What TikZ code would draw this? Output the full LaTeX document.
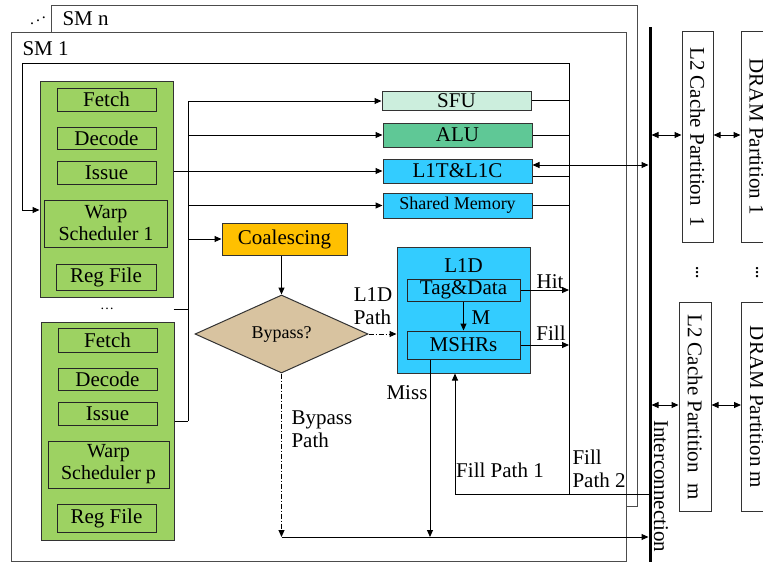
\documentclass[tikz,border=0pt]{standalone}
\usepackage{fontspec}
\setmainfont{Liberation Serif}
\usetikzlibrary{arrows.meta,shapes.geometric,positioning}

\definecolor{coregreen}{HTML}{9DD262}
\definecolor{sfugreen}{HTML}{CCEEDD}
\definecolor{alugreen}{HTML}{5FC896}
\definecolor{lonecyan}{HTML}{33CCFF}
\definecolor{coalorange}{HTML}{FFC000}
\definecolor{bypasstan}{HTML}{D8C3A0}

\tikzset{
  every node/.style={font=\fontsize{21}{23}\selectfont, inner sep=0pt},
  frame/.style={draw=black!70, fill=white},
  core/.style={draw=black!80, fill=coregreen, minimum width=133},
  stage/.style={draw=black!85, minimum width=99, minimum height=23},
  sched/.style={stage, minimum width=123, minimum height=47, align=center,
    font=\fontsize{20}{22}\selectfont},
  fu/.style={draw=black!80, fill=#1, minimum width=149, minimum height=24},
  part/.style={draw=black!80, fill=white, rotate=-90, minimum height=31},
  bypline/.style={dash pattern=on 5pt off 2pt on 1pt off 2pt},
  small/.style={font=\fontsize{18}{20}\selectfont},
  vdot/.style={font=\fontsize{20}{20}\selectfont},
}

\begin{document}
\begin{tikzpicture}[x=1pt, y=-1pt, line width=1pt,
  >={Triangle[length=7pt,width=6pt]}]
  \useasboundingbox (0,0) rectangle (763,565);

  % SM frames
  \node[frame, minimum width=586, minimum height=501] (smn) at (344,255.5) {};
  \node[anchor=base west] (smnlbl) at (62,25) {SM n};
  \node[font=\fontsize{16}{16}\selectfont] (smdots) at (38,18) {\reflectbox{$\ddots$}};
  \node[frame, minimum width=615, minimum height=529] (smone) at (318.5,296.5) {};
  \node[anchor=base west] (smonelbl) at (22,55) {SM 1};

  % cores
  \node[core, minimum height=216] (core1) at (106.5,189) {};
  \node[stage] (fetch1) at (106.5,99.5) {Fetch};
  \node[stage, minimum height=22] (dec1) at (106.5,138) {Decode};
  \node[stage] (iss1) at (106.5,172.5) {Issue};
  \node[sched] (ws1) at (106,223.5) {Warp\\Scheduler 1};
  \node[stage, minimum width=100, minimum height=26] (rf1) at (106,277) {Reg File};

  \node[font=\fontsize{14}{14}\selectfont] (cdots) at (107,309) {\dots};

  \node[core, minimum height=218] (core2) at (107.5,431) {};
  \node[stage, minimum height=24] (fetch2) at (107.5,340) {Fetch};
  \node[stage, minimum height=22] (dec2) at (107.5,379) {Decode};
  \node[stage] (iss2) at (107.5,413.5) {Issue};
  \node[sched, minimum width=121] (ws2) at (108.5,464.5) {Warp\\Scheduler p};
  \node[stage, minimum height=28] (rf2) at (106.5,518) {Reg File};

  % function units
  \node[fu=sfugreen, minimum height=19] (sfu) at (456.5,100.5) {SFU};
  \node[fu=alugreen] (alu) at (457.5,135) {ALU};
  \node[fu=lonecyan] (lonetc) at (457.5,171) {L1T\&L1C};
  \node[fu=lonecyan, minimum height=25, small] (shm) at (457.5,205.5) {Shared Memory};

  \node[draw=black!80, fill=coalorange, minimum width=125, minimum height=32] (coal) at (284.5,239) {Coalescing};
  \node[diamond, draw=black!80, fill=bypasstan, minimum width=173, minimum height=78, small] (byp) at (281.5,334) {Bypass?};

  % L1D
  \node[draw=black!80, fill=lonecyan, minimum width=133, minimum height=126] (lone) at (463.5,310) {};
  \node[stage, minimum width=113, minimum height=22] (tag) at (463.5,290) {Tag\&Data};
  \node[above=5pt of tag] (lonelbl) {L1D};
  \node[stage, minimum width=113, minimum height=28] (mshr) at (463.5,345) {MSHRs};

  % memory partitions
  \node[part, minimum width=211] (ltwo1) at (697.5,137) {L2 Cache Partition~ 1};
  \node[part, minimum width=211] (dram1) at (756.5,137) {DRAM Partition 1};
  \node[vdot] (ldots) at (697,270) {$\vdots$};
  \node[vdot] (ddots) at (757,270) {$\vdots$};
  \node[part, minimum width=209, minimum height=32] (ltwom) at (695,407) {L2 Cache Partition~ m};
  \node[part, minimum width=209] (dramm) at (757,407) {DRAM Partition m};

  % interconnection
  \coordinate (ictop) at (650,27);
  \coordinate (icbot) at (650,562);
  \draw[line width=3pt] (ictop) -- (icbot);
  \node[rotate=-90, anchor=west] (iclbl) at (661,420) {Interconnection};

  \draw[<->, shorten <=1.5pt] ([yshift=2pt]ltwo1.center -| ictop) -- ([yshift=2pt]ltwo1.center -| ltwo1.south);
  \draw[<->] ([yshift=2pt]ltwo1.center -| ltwo1.north) -- ([yshift=2pt]dram1.center -| dram1.south);
  \draw[<->, shorten <=1.5pt] ([yshift=2pt]ltwom.center -| ictop) -- ([yshift=2pt]ltwom.center -| ltwom.south);
  \draw[<->] ([yshift=2pt]ltwom.center -| ltwom.north) -- ([yshift=2pt]dramm.center -| dramm.south);

  % issue bus
  \coordinate (bustop) at (188,101);
  \coordinate (busbot) at (188,421);
  \draw (bustop) -- (busbot);
  \draw (busbot -| core2.east) -- (busbot);
  \draw (cdots -| core1.east) -- (cdots -| bustop);
  \draw[->] (bustop) -- (bustop -| sfu.west);
  \draw[->] (bustop |- alu) -- (alu.west);
  \draw[->] (core1.east |- lonetc) -- (lonetc.west);
  \draw[->] (bustop |- shm) -- (shm.west);
  \draw[->] (bustop |- coal) -- (coal.west);

  % writeback loop
  \coordinate (looptr) at (569,63);
  \coordinate (looptl) at (22,63);
  \coordinate (loopbl) at (22,210);
  \coordinate (fp2) at (569,494);
  \draw[->] (fp2) -- (looptr) -- (looptl) -- (loopbl) -- (loopbl -| core1.west);
  \draw (sfu.east) -- (sfu.east -| looptr);
  \draw (alu.east) -- (alu.east -| looptr);
  \draw ([yshift=-5pt]lonetc.east) -- ([yshift=-5pt]lonetc.east -| looptr);
  \draw (shm.east) -- (shm.east -| looptr);
  \draw[<->, shorten >=1.5pt] ([yshift=6pt]lonetc.east) -- ([yshift=6pt]lonetc.east -| ictop);

  % memory access paths
  \coordinate (bypend) at (281.5,537);
  \coordinate (fp1) at (455,494);
  \draw[->] (coal.south -| byp.north) -- (byp.north);
  \draw[->, bypline] (byp.east) -- (byp.east -| lone.west);
  \draw[->, bypline] (byp.south) -- (bypend);
  \draw[->, shorten >=1.5pt] (bypend) -- (bypend -| ictop);
  \draw[->] (tag.south) -- (mshr.north);
  \draw[->] (tag.east) -- (tag.east -| fp2);
  \draw[->] (mshr.east) -- (mshr.east -| fp2);
  \draw[->] ([xshift=-33.5pt]mshr.south) -- ([xshift=-33.5pt]mshr.south |- bypend);
  \draw[->] (fp2 -| ictop) -- (fp1) -- (fp1 |- lone.south);

  % labels
  \node (mlbl) at (481,318) {M};
  \node (hitlbl) at (550,282) {Hit};
  \node (filllbl) at (551,333) {Fill};
  \node (misslbl) at (407,393) {Miss};
  \node (fp1lbl) at (500,470) {Fill Path 1};
  \node[anchor=west, align=left] (fp2lbl) at (572,469) {Fill\\Path 2};
  \node[align=left] (lonepath) at (373,306) {L1D\\Path};
  \node[anchor=west, align=left] (byplbl) at (291,429) {Bypass\\Path};
\end{tikzpicture}
\end{document}
